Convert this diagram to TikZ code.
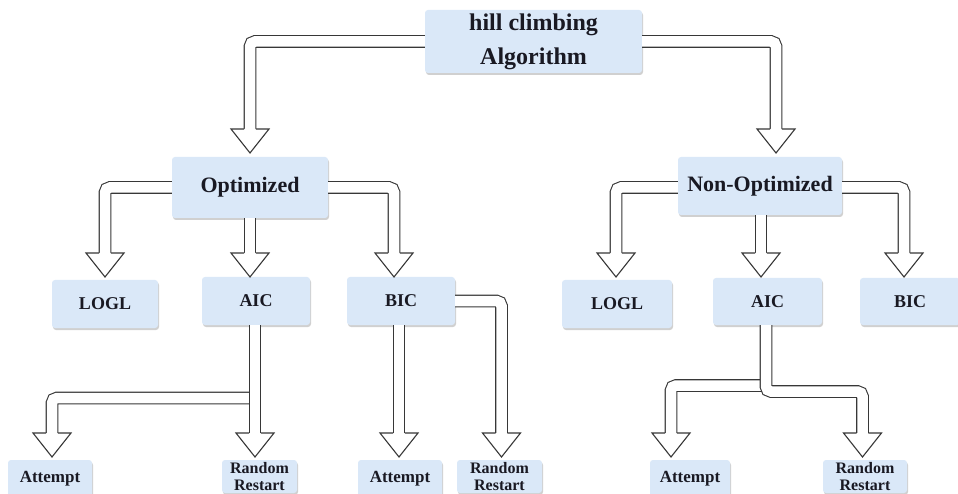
\documentclass[tikz,border=0pt]{standalone}
\usepackage{fontspec}
\setmainfont{Liberation Serif}
\usetikzlibrary{calc,shadows}
\definecolor{boxblue}{RGB}{218,232,248}
\definecolor{txt}{RGB}{25,25,35}
\definecolor{ln}{RGB}{55,55,55}
\tikzset{
  box/.style={draw=none, fill=boxblue, rounded corners=3pt, inner sep=0pt, align=center, text=txt,
    drop shadow={shadow xshift=1pt, shadow yshift=-2pt, opacity=0.3, fill=black!60}},
  fbig/.style={font=\fontsize{24}{34}\selectfont\bfseries},
  fmid/.style={font=\fontsize{22}{26}\selectfont\bfseries},
  fsm/.style={font=\fontsize{18}{22}\selectfont\bfseries},
  fxs/.style={font=\fontsize{17}{19}\selectfont\bfseries},
  frr/.style={font=\fontsize{16}{16.5}\selectfont\bfseries},
  shaft/.style={draw=ln, line width=1.1pt, double=white, double distance=10.5pt, rounded corners=5pt},
  headst/.style={draw=ln, fill=white, line width=1.1pt, line join=miter},
}
\newcommand\ahead[1]{\filldraw[headst] ($#1+(-5.8,-24)$) -- ($#1+(-19,-24)$) -- #1 -- ($#1+(19,-24)$) -- ($#1+(5.8,-24)$);}
\begin{document}
\begin{tikzpicture}[x=1pt,y=-1pt]
\useasboundingbox (0,0) rectangle (958,494);
\clip (0,0) rectangle (958,494);
\fill[white] (0,0) rectangle (958,494);
% nodes
\node[box,fbig,minimum width=217pt,minimum height=63pt] (top) at (533.5,41.5) {hill climbing\\Algorithm};
\node[box,fmid,minimum width=156pt,minimum height=61pt] (opt) at (250,187.5) {Optimized};
\node[box,fmid,minimum width=164pt,minimum height=58pt] (nopt) at (760,186) {Non-Optimized};
\node[box,fsm,minimum width=106pt,minimum height=48pt] (logl1) at (105,304) {LOGL};
\node[box,fsm,minimum width=108pt,minimum height=48pt] (aic1) at (256,301) {AIC};
\node[box,fsm,minimum width=108pt,minimum height=48pt] (bic1) at (401,301) {BIC};
\node[box,fsm,minimum width=110pt,minimum height=48pt] (logl2) at (617,304) {LOGL};
\node[box,fsm,minimum width=109pt,minimum height=47pt] (aic2) at (767.5,301.5) {AIC};
\node[box,fsm,minimum width=100pt,minimum height=47pt] (bic2) at (910,301.5) {BIC};
\node[box,fxs,minimum width=84pt,minimum height=38pt] (att1) at (50,479) {Attempt};
\node[box,frr,minimum width=75pt,minimum height=33pt] (rr1) at (259.5,476.5) {Random\\Restart};
\node[box,fxs,minimum width=84pt,minimum height=38pt] (att2) at (400,479) {Attempt};
\node[box,frr,minimum width=85pt,minimum height=33pt] (rr2) at (499.5,476.5) {Random\\Restart};
\node[box,fxs,minimum width=80pt,minimum height=38pt] (att3) at (690,479) {Attempt};
\node[box,frr,minimum width=84pt,minimum height=33pt] (rr3) at (865,476.5) {Random\\Restart};
% arrow tips
\coordinate (t1) at (250,153);
\coordinate (t2) at (776,153);
\coordinate (t3) at (105,277);
\coordinate (t4) at (250,277);
\coordinate (t5) at (394,277);
\coordinate (t6) at (616,277);
\coordinate (t7) at (761,277);
\coordinate (t8) at (904,277);
\coordinate (t9) at (52,457);
\coordinate (t10) at (255,457);
\coordinate (t11) at (399,457);
\coordinate (t12) at (501.5,457);
\coordinate (t13) at (671,457);
\coordinate (t14) at (862.5,457);
\coordinate (j1) at (255,398);
\coordinate (j2) at (766,385.5);
\coordinate (j3) at (766,391.5);
% level 1
\draw[shaft] (top.west) -| ($(t1)+(0,-24)$); \ahead{(t1)}
\draw[shaft] (top.east) -| ($(t2)+(0,-24)$); \ahead{(t2)}
% level 2
\draw[shaft] (opt.west) -| ($(t3)+(0,-24)$); \ahead{(t3)}
\draw[shaft] (opt.south -| t4) -- ($(t4)+(0,-24)$); \ahead{(t4)}
\draw[shaft] (opt.east) -| ($(t5)+(0,-24)$); \ahead{(t5)}
\draw[shaft] ($(nopt.west)+(0,1.5)$) -| ($(t6)+(0,-24)$); \ahead{(t6)}
\draw[shaft] (nopt.south -| t7) -- ($(t7)+(0,-24)$); \ahead{(t7)}
\draw[shaft] ($(nopt.east)+(0,1.5)$) -| ($(t8)+(0,-24)$); \ahead{(t8)}
% level 3 left
\draw[shaft] (j1) -| ($(t9)+(0,-24)$); \ahead{(t9)}
\draw[shaft] (aic1.south -| t10) -- ($(t10)+(0,-24)$); \ahead{(t10)}
\draw[shaft] (bic1.south -| t11) -- ($(t11)+(0,-24)$); \ahead{(t11)}
\draw[shaft] (bic1.east) -| ($(t12)+(0,-24)$); \ahead{(t12)}
% level 3 right
\draw[shaft] (j2) -| ($(t13)+(0,-24)$); \ahead{(t13)}
\draw[shaft] (aic2.south -| j2) -- (j3) -| ($(t14)+(0,-24)$); \ahead{(t14)}
\end{tikzpicture}
\end{document}
